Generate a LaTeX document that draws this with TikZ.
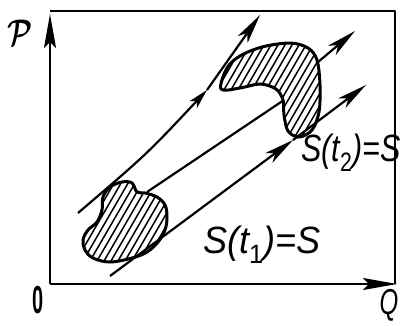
\documentclass[tikz,border=0pt]{standalone}
\usepackage{amsmath,amssymb}
\usepackage{graphicx}
\usepackage{fontspec}
\setsansfont{Liberation Sans}
\usepackage{tikz}
\usetikzlibrary{arrows.meta}

\begin{document}
\begin{tikzpicture}[x=1pt, y=-1pt, >=Stealth,
    axis/.style={line width=2.4pt, -{Stealth[length=34pt, width=12pt, inset=6pt]}},
    frame/.style={line width=1.8pt, line join=round},
    flow/.style={line width=2.2pt, -{Stealth[length=30pt, width=12pt, inset=8pt]}},
    midflow/.style={line width=2.2pt, -{Stealth[length=20pt, width=10pt, inset=5pt]}},
    blob/.style={line width=3pt, line join=round},
    hatch/.style={line width=1.5pt},
    lbl/.style={font=\fontsize{38}{38}\selectfont\sffamily\itshape, inner sep=0pt}]
    \useasboundingbox (0,0) rectangle (409,325);

    % Frame and axes
    \coordinate (O) at (50,284);
    \coordinate (Ptop) at (50,14);
    \coordinate (Qend) at (397,284);
    \draw[frame] (50,11) -- (395,11) -- (395,284);
    \draw[axis] (O) -- (Ptop);
    \draw[axis] (O) -- (Qend);
    \node[inner sep=0pt, font=\sffamily\bfseries] (zero) at (38,300) {\scalebox{2.0}[3.9]{0}};
    \node[inner sep=0pt, font=\sffamily\itshape] (qlab) at (389,305) {\scalebox{2.4}[3.6]{Q}};
    \node[inner sep=0pt] (plab) at (20,33) {\scalebox{2.8}[3.7]{$\boldsymbol{\mathcal{P}}$}};

    % Lower region S(t_1)
    \begin{scope}
      \clip plot[smooth cycle, tension=0.6] coordinates {(103,197) (110,187) (122,182) (132,183) (137,192) (145,193) (157,197) (165,205) (167,217) (165,230) (158,242) (147,252) (132,258) (110,262) (93,258) (85,250) (83,240) (88,230) (97,222) (102,210)};
      \foreach \h in {30,37,...,210}
        \draw[hatch] (\h,280) -- ++(162,-280);
    \end{scope}
    \draw[blob] plot[smooth cycle, tension=0.6] coordinates {(103,197) (110,187) (122,182) (132,183) (137,192) (145,193) (157,197) (165,205) (167,217) (165,230) (158,242) (147,252) (132,258) (110,262) (93,258) (85,250) (83,240) (88,230) (97,222) (102,210)};

    % Upper region S(t_2)
    \begin{scope}
      \clip plot[smooth cycle, tension=0.55] coordinates {(221,89) (227,68) (240,56) (262,47) (290,43) (308,48) (317,60) (320,85) (319,112) (312,130) (299,137) (288,131) (284,115) (283,100) (276,89) (260,84) (240,88)};
      \foreach \h in {30,37,...,260}
        \draw[hatch] (\h,280) -- ++(162,-280);
    \end{scope}
    \draw[blob] plot[smooth cycle, tension=0.55] coordinates {(221,89) (227,68) (240,56) (262,47) (290,43) (308,48) (317,60) (320,85) (319,112) (312,130) (299,137) (288,131) (284,115) (283,100) (276,89) (260,84) (240,88)};

    % Phase trajectories
    \coordinate (A0) at (78,213);
    \coordinate (A1) at (207,90);
    \coordinate (A2) at (260,15);
    \coordinate (B0) at (147,192);
    \coordinate (B1) at (284,100);
    \coordinate (B2) at (318,62);
    \coordinate (B3) at (355,31);
    \coordinate (C0) at (110,276);
    \coordinate (C1) at (293,140);
    \coordinate (C2) at (366,85);
    \draw[midflow] (A0) .. controls (147,154) .. (A1);
    \draw[flow] (A1) -- (A2);
    \draw[line width=2.2pt] (B0) -- (B1);
    \draw[flow] (B2) -- (B3);
    \draw[flow] (C0) -- (C1);
    \draw[flow] (C1) -- (C2);

    % Labels
    \node[lbl] (s2) at (351,153) {\scalebox{0.8}[1]{S(t\textsubscript{\upshape 2})=S}};
    \node[lbl] (s1) at (262,245) {\scalebox{0.95}[1]{S(t\textsubscript{\upshape 1})=S}};
\end{tikzpicture}
\end{document}
